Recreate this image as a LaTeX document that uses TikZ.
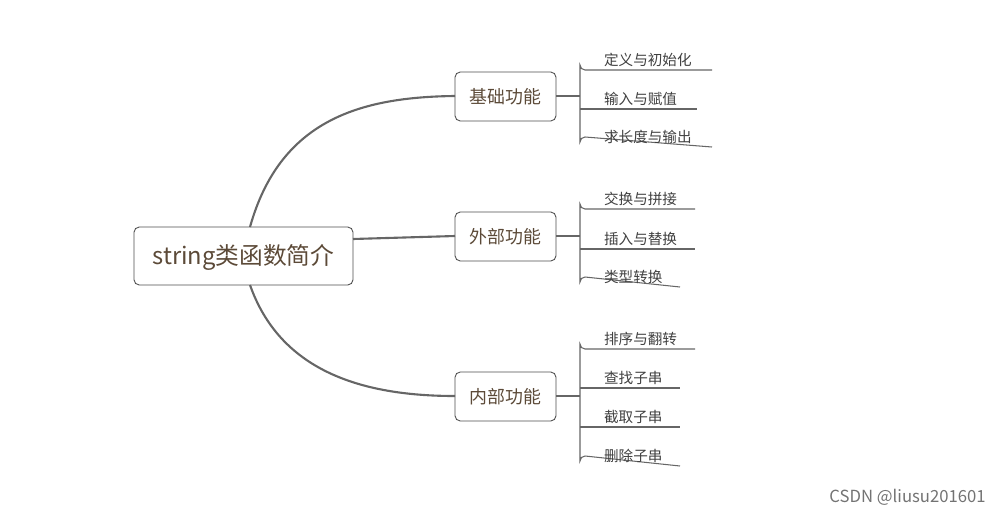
\documentclass[tikz,border=0pt]{standalone}
\usepackage{fontspec}
\setmainfont{Noto Sans CJK SC}
\begin{document}
\begin{tikzpicture}[x=0.02cm,y=-0.02cm,
  txt/.style={text=black!60!brown!70!gray},
  box/.style={draw=black!70,rounded corners=3pt,line width=0.5pt},
  con/.style={draw=black!60,line width=1.2pt},
  leafl/.style={draw=black!60,line width=0.6pt},
  leaf/.style={anchor=south west,inner sep=1pt,font=\fontsize{8.3pt}{9pt}\selectfont,text=black!75}]
\useasboundingbox (0,0) rectangle (1000,514);
\draw[box] (134,227) rectangle (353,285);
\node[txt,font=\fontsize{13.5pt}{15pt}\selectfont] (root) at (243.5,257) {string类函数简介};
\foreach \n/\y/\t in {a/96/基础功能,b/236/外部功能,c/396/内部功能}{
  \draw[box] (455,\y-24) rectangle (556,\y+25);
  \node[txt,font=\fontsize{10.2pt}{12pt}\selectfont] (\n) at (505.5,\y+1) {\t};
  \coordinate (\n R) at (556,\y);
  \coordinate (\n L) at (455,\y);
}
\coordinate (rt) at (250,227);
\coordinate (rb) at (250,285);
\coordinate (rr) at (353,239);
\draw[con] (rt) .. controls (280,120) and (360,97) .. (aL);
\draw[con] (rr) -- (bL);
\draw[con] (rb) .. controls (280,370) and (360,396) .. (cL);
% group a
\draw[leafl] (aR) -- (580,96);
\draw[leafl] (712,70) -- (585,70) arc (90:180:5) -- (580,142) arc (180:270:5) -- (712,147);
\draw[leafl] (580,109) -- (697,109);
\node[leaf] (a1) at (602,69) {定义与初始化};
\node[leaf] (a2) at (602,108) {输入与赋值};
\node[leaf] (a3) at (602,146) {求长度与输出};
% group b
\draw[leafl] (bR) -- (580,236);
\draw[leafl] (695,209) -- (585,209) arc (90:180:5) -- (580,282) arc (180:270:5) -- (680,287);
\draw[leafl] (580,249) -- (695,249);
\node[leaf] (b1) at (602,208) {交换与拼接};
\node[leaf] (b2) at (602,248) {插入与替换};
\node[leaf] (b3) at (602,286) {类型转换};
% group c
\draw[leafl] (cR) -- (580,396);
\draw[leafl] (695,349) -- (585,349) arc (90:180:5) -- (580,461) arc (180:270:5) -- (680,466);
\draw[leafl] (580,388) -- (680,388);
\draw[leafl] (580,427) -- (680,427);
\node[leaf] (c1) at (602,348) {排序与翻转};
\node[leaf] (c2) at (602,387) {查找子串};
\node[leaf] (c3) at (602,426) {截取子串};
\node[leaf] (c4) at (602,465) {删除子串};
\node[anchor=east,text=black!55,font=\fontsize{9.5pt}{11pt}\selectfont,inner sep=0pt] (wm) at (986,497) {CSDN @liusu201601};
\end{tikzpicture}
\end{document}
